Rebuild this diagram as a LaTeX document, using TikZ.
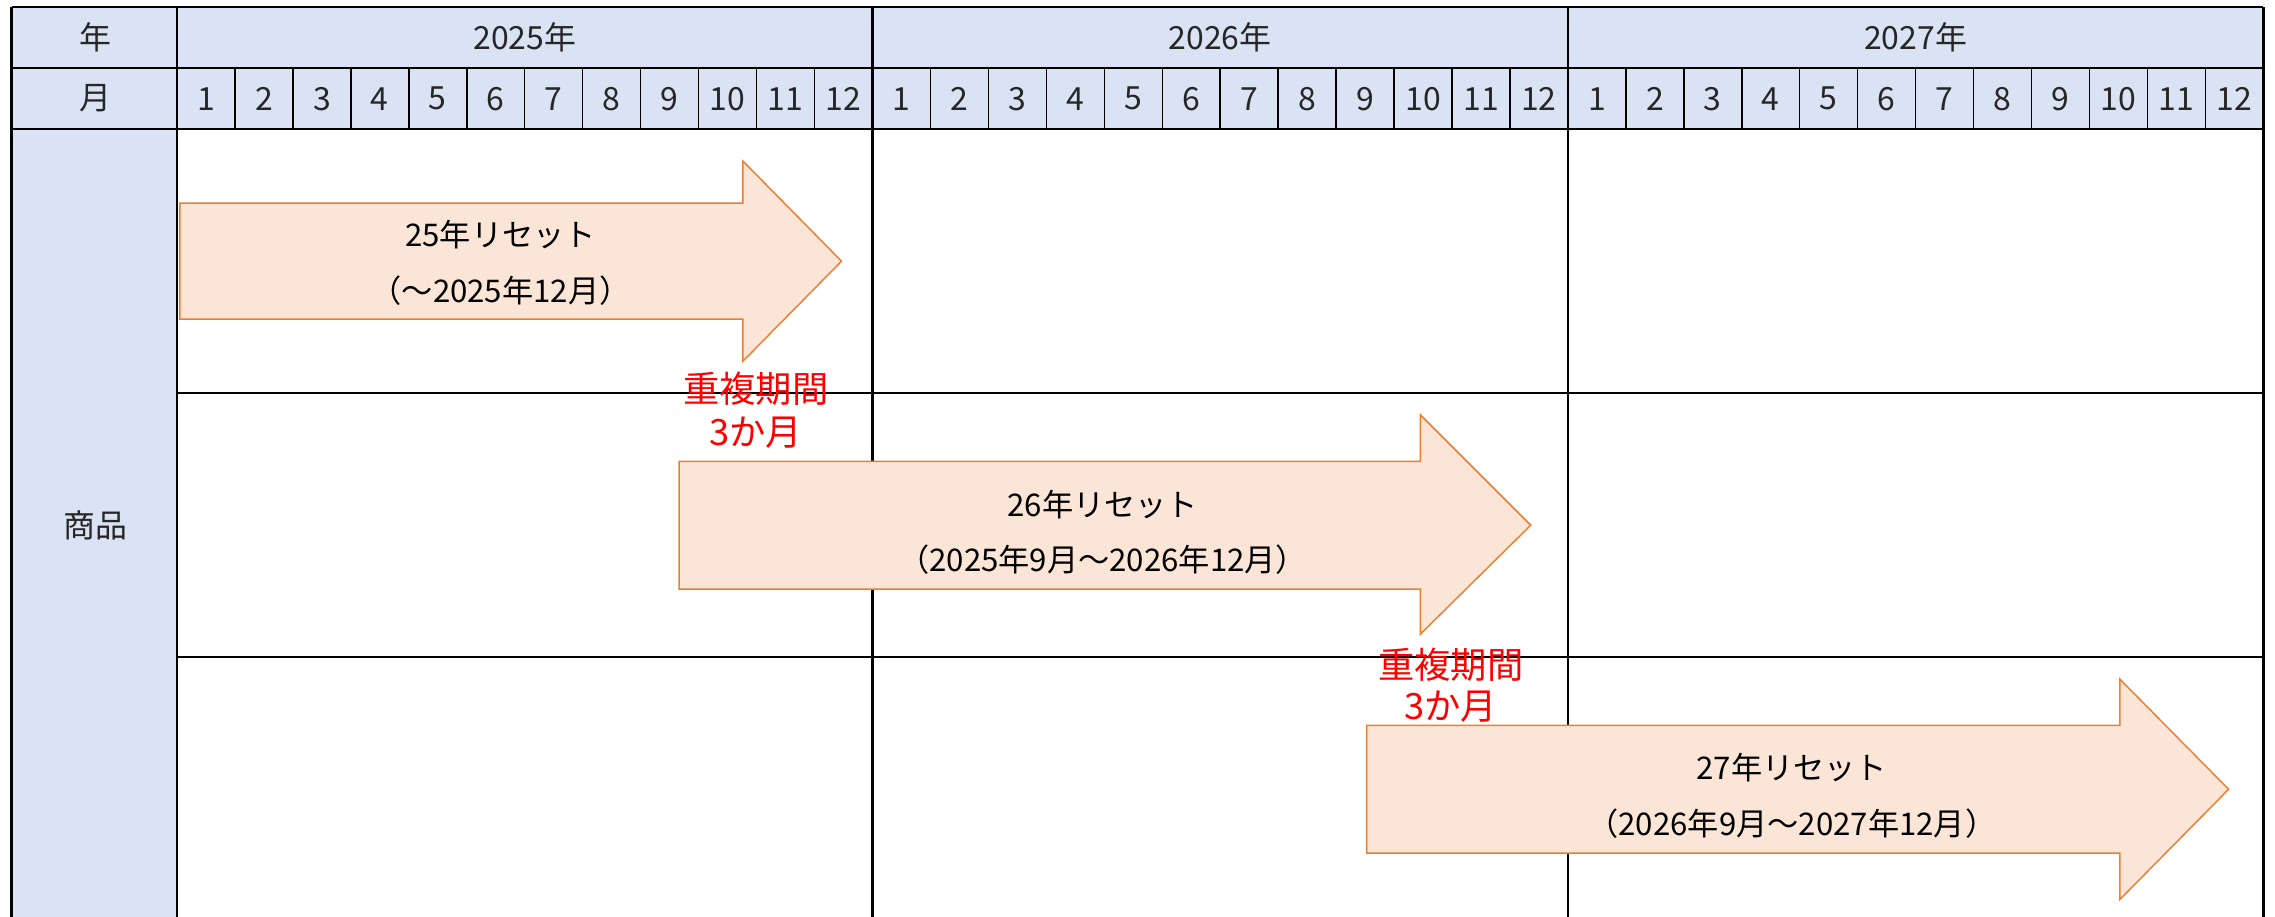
\documentclass[tikz,border=0pt]{standalone}
\usepackage{fontspec}
\setmainfont{Noto Sans CJK JP}
\definecolor{hdr}{HTML}{DAE3F3}
\definecolor{arrfill}{HTML}{FBE5D6}
\definecolor{arrline}{HTML}{ED7D31}
\definecolor{redtxt}{HTML}{FF0000}
\begin{document}
\begin{tikzpicture}[x=1pt,y=-1pt,
  grid/.style={line width=1.6pt, black},
  mgrid/.style={line width=1pt, black},
  hd/.style={font=\fontsize{22}{26}\selectfont, text=black!85, inner sep=0pt},
  lbl/.style={font=\fontsize{21.5}{25}\selectfont, text=black, inner sep=0pt},
  ovl/.style={font=\fontsize{25}{29}\selectfont, text=redtxt, inner sep=0pt},
  arrowshape/.style={fill=arrfill, draw=arrline, line width=1pt, line join=miter}]
\useasboundingbox (0,0) rectangle (1568,632);
% fills
\fill[hdr] (8,5) rectangle (1560,89);
\fill[hdr] (8,89) rectangle (122,632);
% grid lines
\draw[grid] (8,5) -- (1560,5);
\draw[grid] (8,47) -- (1560,47);
\draw[grid] (8,89) -- (1560,89);
\draw[grid] (122,271) -- (1560,271);
\draw[grid] (122,453) -- (1560,453);
\draw[grid] (8,5) -- (8,632);
\draw[grid] (122,5) -- (122,632);
\draw[grid] (601.3,5) -- (601.3,632);
\draw[grid] (1080.7,5) -- (1080.7,632);
\draw[grid] (1560,5) -- (1560,632);
\foreach \k in {1,...,11,13,14,...,23,25,26,...,35}
  \draw[mgrid] ({122+\k*39.944},47) -- ({122+\k*39.944},89);
% header texts
\node[hd] (nen) at (66,26) {年};
\node[hd] (tsuki) at (66,68) {月};
\node[hd] (shohin) at (66,362) {商品};
\node[hd] (y2025) at (361.7,26) {2025年};
\node[hd] (y2026) at (841,26) {2026年};
\node[hd] (y2027) at (1320.3,26) {2027年};
\foreach \yy in {0,1,2}
  \foreach \m in {1,...,12}
    \node[hd] (m\yy-\m) at ({122+(\yy*12+\m-0.5)*39.944},68) {\m};
% arrows
\draw[arrowshape] (124,140) -- (512,140) -- (512,111) -- (580,180) -- (512,249) -- (512,220) -- (124,220) -- cycle;
\draw[arrowshape] (468,318) -- (979,318) -- (979,286) -- (1055,362) -- (979,437) -- (979,406) -- (468,406) -- cycle;
\draw[arrowshape] (942,500) -- (1461,500) -- (1461,468) -- (1536,544) -- (1461,620) -- (1461,588) -- (942,588) -- cycle;
% arrow labels
\node[lbl] (a1a) at (345,162) {25年リセット};
\node[lbl] (a1b) at (345,200) {（〜2025年12月）};
\node[lbl] (a2a) at (760,348) {26年リセット};
\node[lbl] (a2b) at (760,386) {（2025年9月〜2026年12月）};
\node[lbl] (a3a) at (1235,529) {27年リセット};
\node[lbl] (a3b) at (1235,568) {（2026年9月〜2027年12月）};
% overlap notes
\node[ovl] (o1a) at (521,268) {重複期間};
\node[ovl] (o1b) at (521,298) {3か月};
\node[ovl] (o2a) at (1000,458) {重複期間};
\node[ovl] (o2b) at (1000,487) {3か月};
\end{tikzpicture}
\end{document}
